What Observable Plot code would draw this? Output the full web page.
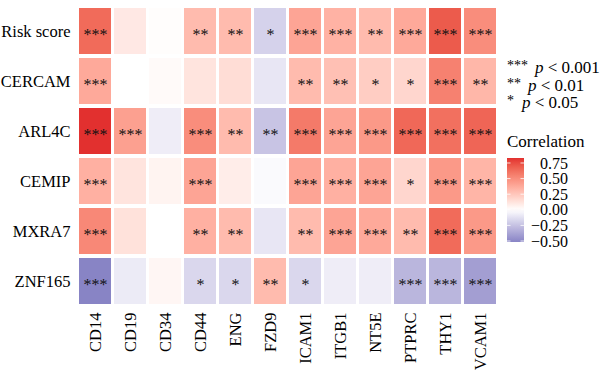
<!DOCTYPE html>
<html>
<head>
<meta charset="utf-8">
<script src="https://cdn.jsdelivr.net/npm/d3@7"></script>
<script src="https://cdn.jsdelivr.net/npm/@observablehq/plot@0.6"></script>
<style>
  html, body { margin: 0; padding: 0; background: #fff; }
  #wrap { position: relative; width: 600px; height: 372px; overflow: hidden; }
  #legend { position: absolute; left: 0; top: 0; pointer-events: none; }
</style>
</head>
<body>
<div id="wrap"></div>
<script>
const rows = ["Risk score", "CERCAM", "ARL4C", "CEMIP", "MXRA7", "ZNF165"];
const genes = ["CD14", "CD19", "CD34", "CD44", "ENG", "FZD9", "ICAM1", "ITGB1", "NT5E", "PTPRC", "THY1", "VCAM1"];

// correlation values per row (same order as genes)
const corrRiskScore = [0.64, 0.10, 0.01, 0.30, 0.30, -0.18, 0.40, 0.34, 0.30, 0.38, 0.70, 0.50];
const corrCERCAM    = [0.38, 0.00, 0.02, 0.12, 0.15, -0.10, 0.30, 0.28, 0.22, 0.18, 0.55, 0.32];
const corrARL4C     = [0.83, 0.42, -0.07, 0.50, 0.30, -0.24, 0.58, 0.40, 0.45, 0.65, 0.62, 0.66];
const corrCEMIP     = [0.35, 0.12, 0.05, 0.40, 0.08, -0.02, 0.40, 0.35, 0.40, 0.18, 0.45, 0.33];
const corrMXRA7     = [0.52, 0.13, 0.00, 0.35, 0.30, -0.10, 0.30, 0.40, 0.38, 0.30, 0.64, 0.45];
const corrZNF165    = [-0.516, -0.08, 0.04, -0.16, -0.16, 0.30, -0.16, -0.07, -0.07, -0.30, -0.30, -0.40];

// significance stars per row
const starsRiskScore = ["***", "", "", "**", "**", "*", "***", "***", "**", "***", "***", "***"];
const starsCERCAM    = ["***", "", "", "", "", "", "**", "**", "*", "*", "***", "**"];
const starsARL4C     = ["***", "***", "", "***", "**", "**", "***", "***", "***", "***", "***", "***"];
const starsCEMIP     = ["***", "", "", "***", "", "", "***", "***", "***", "*", "***", "***"];
const starsMXRA7     = ["***", "", "", "**", "**", "", "**", "***", "***", "**", "***", "***"];
const starsZNF165    = ["***", "", "", "*", "*", "**", "*", "", "", "***", "***", "***"];

const legendTicks = [0.75, 0.50, 0.25, 0.00, -0.25, -0.50];
const pLegend = [["***", "p < 0.001"], ["**", "p < 0.01"], ["*", "p < 0.05"]];

const corrByRow = [corrRiskScore, corrCERCAM, corrARL4C, corrCEMIP, corrMXRA7, corrZNF165];
const starsByRow = [starsRiskScore, starsCERCAM, starsARL4C, starsCEMIP, starsMXRA7, starsZNF165];

const data = [];
rows.forEach((r, i) => genes.forEach((g, j) => {
  data.push({row: r, gene: g, value: corrByRow[i][j], stars: starsByRow[i][j]});
}));

const FONT = "'Liberation Serif', 'DejaVu Serif', serif";
const cmin = d3.min(data, d => d.value), cmax = d3.max(data, d => d.value);

const chart = Plot.plot({
  width: 600,
  height: 372,
  marginLeft: 78,
  marginRight: 104,
  marginTop: 7,
  marginBottom: 67,
  style: {fontFamily: FONT, background: "white", color: "black", overflow: "visible"},
  x: {domain: genes, paddingInner: 0.1, paddingOuter: 0},
  y: {domain: rows, paddingInner: 0.087, paddingOuter: 0},
  color: {
    type: "linear",
    domain: [cmin, 0, cmax],
    range: ["#8884c5", "#ffffff", "#e2302f"],
    interpolate: "lab"
  },
  marks: [
    Plot.cell(data, {x: "gene", y: "row", fill: "value", inset: 0}),
    Plot.text(data, {x: "gene", y: "row", text: "stars", fontSize: 16, dy: 3, fill: "#111"}),
    Plot.axisX({tickRotate: -90, tickSize: 0, tickPadding: 7, fontSize: 16.5, label: null}),
    Plot.axisY({tickSize: 0, tickPadding: 8, fontSize: 16.5, label: null})
  ]
});

const wrap = document.getElementById("wrap");
wrap.appendChild(chart);

// legend overlay
const color = chart.scale("color");
const svg = d3.select(wrap).append("svg")
  .attr("id", "legend")
  .attr("width", 600).attr("height", 372)
  .style("font-family", FONT);

const pl = svg.append("g");
const pY = [73, 91, 108];
const pX = [535, 528, 522];
pLegend.forEach(([s, t], i) => {
  pl.append("text").attr("x", 507).attr("y", pY[i] - 3).attr("font-size", 14).text(s);
  const tx = pl.append("text").attr("x", pX[i]).attr("y", pY[i]).attr("font-size", 17);
  tx.append("tspan").attr("font-style", "italic").text(t.slice(0, 1));
  tx.append("tspan").text(t.slice(1));
});

svg.append("text").attr("x", 507).attr("y", 147).attr("font-size", 17).text("Correlation");

// colorbar
const barX = 507, barW = 17, barTop = 158, barBot = 242;
const yb = d3.scaleLinear().domain([cmax, cmin]).range([barTop, barBot]);
const grad = svg.append("defs").append("linearGradient")
  .attr("id", "cgrad").attr("x1", 0).attr("y1", 0).attr("x2", 0).attr("y2", 1);
d3.range(0, 1.0001, 0.05).forEach(t => {
  const v = cmax + (cmin - cmax) * t;
  grad.append("stop").attr("offset", t).attr("stop-color", color.apply(v));
});
svg.append("rect").attr("x", barX).attr("y", barTop).attr("width", barW).attr("height", barBot - barTop)
  .attr("fill", "url(#cgrad)");
legendTicks.forEach(v => {
  const y = yb(v);
  svg.append("line").attr("x1", barX).attr("x2", barX + 3.5).attr("y1", y).attr("y2", y)
    .attr("stroke", "white").attr("stroke-width", 1).attr("opacity", 0.8);
  svg.append("line").attr("x1", barX + barW - 3.5).attr("x2", barX + barW).attr("y1", y).attr("y2", y)
    .attr("stroke", "white").attr("stroke-width", 1).attr("opacity", 0.8);
  svg.append("text").attr("x", 568).attr("y", y).attr("dy", "0.35em").attr("text-anchor", "end")
    .attr("font-size", 16).text(d3.format(".2f")(v).replace("-", "\u2212"));
});
</script>
</body>
</html>
